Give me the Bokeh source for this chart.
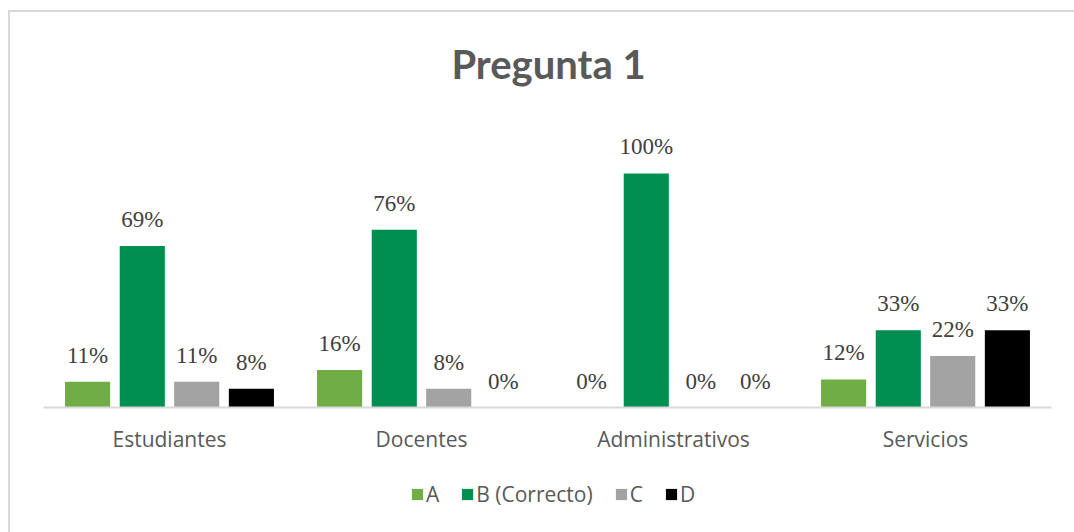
from bokeh.plotting import figure
from bokeh.layouts import column
from bokeh.models import ColumnDataSource, LabelSet, Label, Legend, LegendItem, FactorRange
from bokeh.transform import dodge
from bokeh.embed import file_html
from bokeh.resources import INLINE
from bokeh.core.properties import value

categories = ["Estudiantes", "Docentes", "Administrativos", "Servicios"]
series_names = ["A", "B (Correcto)", "C", "D"]
vals_a = [0.11, 0.16, 0.00, 0.12]
vals_b = [0.69, 0.76, 1.00, 0.33]
vals_c = [0.11, 0.08, 0.00, 0.22]
vals_d = [0.08, 0.00, 0.00, 0.33]
colors = ["#70AD47", "#008F4F", "#A3A3A3", "#000000"]
offsets = [-0.325, -0.108, 0.108, 0.325]

p = figure(x_range=FactorRange(*categories), y_range=(0, 1.688),
           width=1064, height=460, output_backend="svg", toolbar_location=None,
           min_border_left=33, min_border_right=23, min_border_top=0, min_border_bottom=65)
p.outline_line_color = None
p.xgrid.visible = False
p.ygrid.visible = False
p.yaxis.visible = False
p.x_range.range_padding = 0

ax = p.xaxis[0]
ax.axis_line_color = "#D9D9D9"
ax.axis_line_width = 2
ax.major_tick_line_color = None
ax.minor_tick_line_color = None
ax.major_label_text_font = "Open Sans"
ax.major_label_text_font_size = "21px"
ax.major_label_text_color = "#595959"
ax.major_label_standoff = 11

for name, vals, col, off in zip(series_names, [vals_a, vals_b, vals_c, vals_d], colors, offsets):
    src = ColumnDataSource(dict(cat=categories, v=vals, txt=[f"{round(v*100)}%" for v in vals]))
    p.vbar(x=dodge("cat", off, range=p.x_range), top="v", width=0.179, source=src,
           fill_color=col, line_color=None)
    ls = LabelSet(x=dodge("cat", off, range=p.x_range), y="v", text="txt", source=src,
                  text_align="center", text_baseline="alphabetic", y_offset=19,
                  text_font=value("Liberation Serif"), text_font_size="23px", text_color="#404040")
    p.add_layout(ls)

title = Label(x=505, y=344, x_units="screen", y_units="screen", text="Pregunta 1",
              text_align="center", text_baseline="alphabetic", text_font="Lato",
              text_font_size="40px", text_font_style="bold", text_color="#595959")
p.add_layout(title)

# legend strip
pl = figure(width=1064, height=60, output_backend="svg", toolbar_location=None,
            x_range=(0, 1), y_range=(0, 1), min_border=0, x_axis_type=None, y_axis_type=None)
pl.grid.visible = False
pl.outline_line_color = None
items = []
for name, col in zip(series_names, colors):
    r = pl.vbar(x=[0.5], top=[0], width=0, fill_color=col, line_color=None)
    items.append(LegendItem(label=name, renderers=[r]))
legend = Legend(items=items, orientation="horizontal", location=(367, 24),
                glyph_width=14, glyph_height=14, label_standoff=2, spacing=21,
                label_width=0, padding=0, margin=0, border_line_color=None,
                background_fill_alpha=0,
                label_text_font="Open Sans", label_text_font_size="21px", label_text_color="#595959",
                label_height=17)
pl.add_layout(legend, "center")

layout = column(p, pl, spacing=0)
layout.margin = (10, 0, 0, 8)
layout.styles = {"border-left": "2px solid #D9D9D9", "border-top": "2px solid #D9D9D9"}

open("out.html", "w").write(file_html(layout, INLINE))
